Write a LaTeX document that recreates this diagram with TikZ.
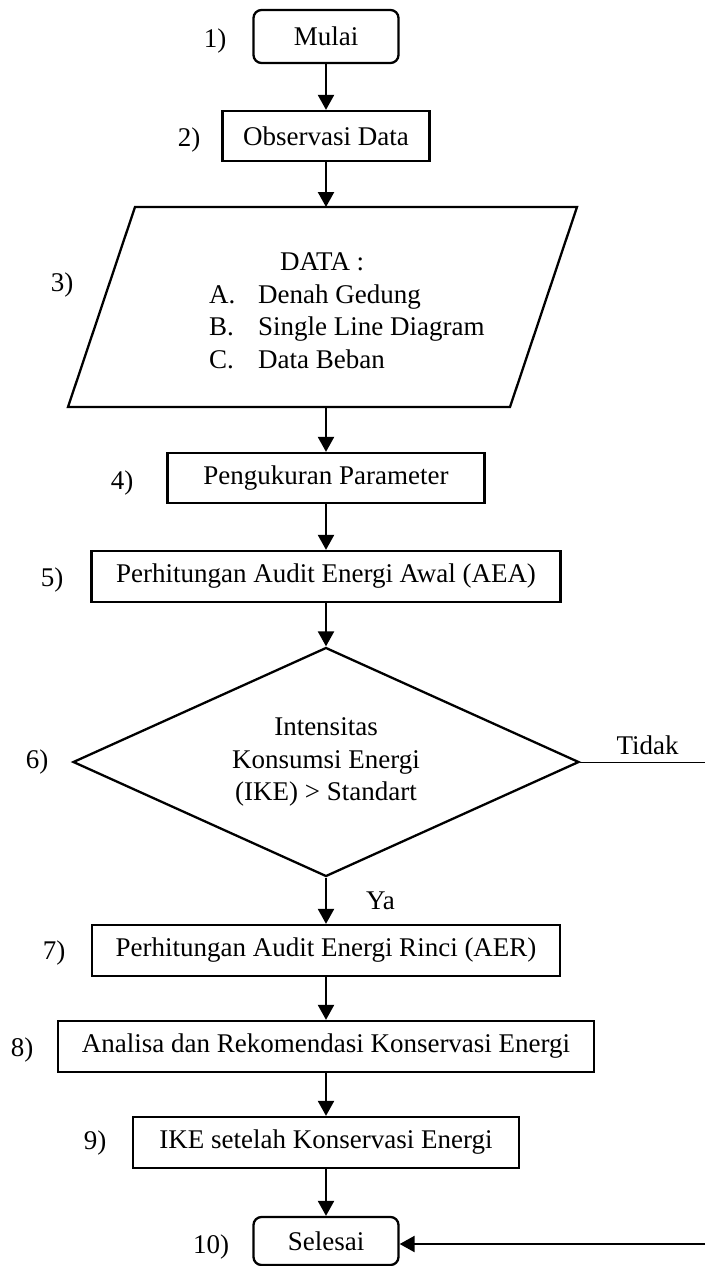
\documentclass[tikz,border=0pt]{standalone}
\usepackage{fontspec}
\setmainfont{Liberation Serif}
\usetikzlibrary{shapes.geometric,arrows.meta}
\begin{document}
\begin{tikzpicture}[x=1pt, y=-1pt, line width=2.3pt,
    font=\fontsize{27}{32.5}\selectfont,
    >={Triangle[length=15pt,width=16pt]},
    box/.style={draw, rectangle, inner sep=0pt, minimum height=51pt},
    term/.style={box, rounded corners=8pt},
    decision/.style={draw, diamond, aspect=2.2, inner sep=0pt, align=center,
        minimum width=506pt, minimum height=229pt},
    num/.style={inner sep=0pt}]
    \useasboundingbox (0,0) rectangle (705,1266);

    % Steps 1 and 2
    \node[term, minimum width=145pt, minimum height=53pt] (mulai) at (326,36.5) {Mulai};
    \node[num] (n1) at (215,41) {1)};
    \node[box, minimum width=207pt, minimum height=50pt] (obs) at (326,136) {Observasi Data};
    \node[num] (n2) at (189,140) {2)};

    % Step 3: data (parallelogram drawn directly)
    \draw (135,207) -- (577,207) -- (510,407) -- (68,407) -- cycle;
    \coordinate (dtop) at (326,207);
    \coordinate (dbot) at (326,407);
    \node[num, align=left, anchor=west] (data) at (208,311)
        {\hspace*{71pt}DATA :\\
         \makebox[49pt][l]{A.}Denah Gedung\\
         \makebox[49pt][l]{B.}Single Line Diagram\\
         \makebox[49pt][l]{C.}Data Beban};
    \node[num] (n3) at (62,285) {3)};

    % Steps 4 and 5
    \node[box, minimum width=317pt, minimum height=50pt] (ukur) at (326,478) {Pengukuran Parameter};
    \node[num] (n4) at (122,483) {4)};
    \node[box, minimum width=469pt] (aea) at (326,576.5) {Perhitungan Audit Energi Awal (AEA)};
    \node[num] (n5) at (52,580) {5)};

    % Step 6: decision
    \node[decision] (ike) at (326,762) {Intensitas\\Konsumsi Energi\\(IKE) > Standart};
    \node[num] (n6) at (37,762) {6)};
    \coordinate (tkanan) at (705,762);

    % Steps 7 to 10
    \node[box, minimum width=468pt] (aer) at (326,950.5) {Perhitungan Audit Energi Rinci (AER)};
    \node[num] (n7) at (54,953) {7)};
    \node[box, minimum width=536pt] (rekom) at (326,1046.5) {Analisa dan Rekomendasi Konservasi Energi};
    \node[num] (n8) at (22,1050) {8)};
    \node[box, minimum width=386pt] (ikebaru) at (326,1142.5) {IKE setelah Konservasi Energi};
    \node[num] (n9) at (95,1143) {9)};
    \node[term, minimum width=145pt, minimum height=48pt] (selesai) at (326,1241) {Selesai};
    \node[num] (n10) at (211,1247) {10)};
    \coordinate (bkanan) at (705,1244);

    % Connectors
    \draw[->] (mulai) -- (obs);
    \draw[->] (obs) -- (dtop);
    \draw[->] (dbot) -- (ukur);
    \draw[->] (ukur) -- (aea);
    \draw[->] (aea) -- (ike);
    \draw[->] (ike) -- node[num, right=39pt] {Ya} (aer);
    \draw[->] (aer) -- (rekom);
    \draw[->] (rekom) -- (ikebaru);
    \draw[->] (ikebaru) -- (selesai);
    \draw[line width=1pt] (ike.east) -- node[num, above=7pt, xshift=5pt] {Tidak} (tkanan);
    \draw[->] (bkanan) -- (bkanan -| selesai.east);
\end{tikzpicture}
\end{document}
